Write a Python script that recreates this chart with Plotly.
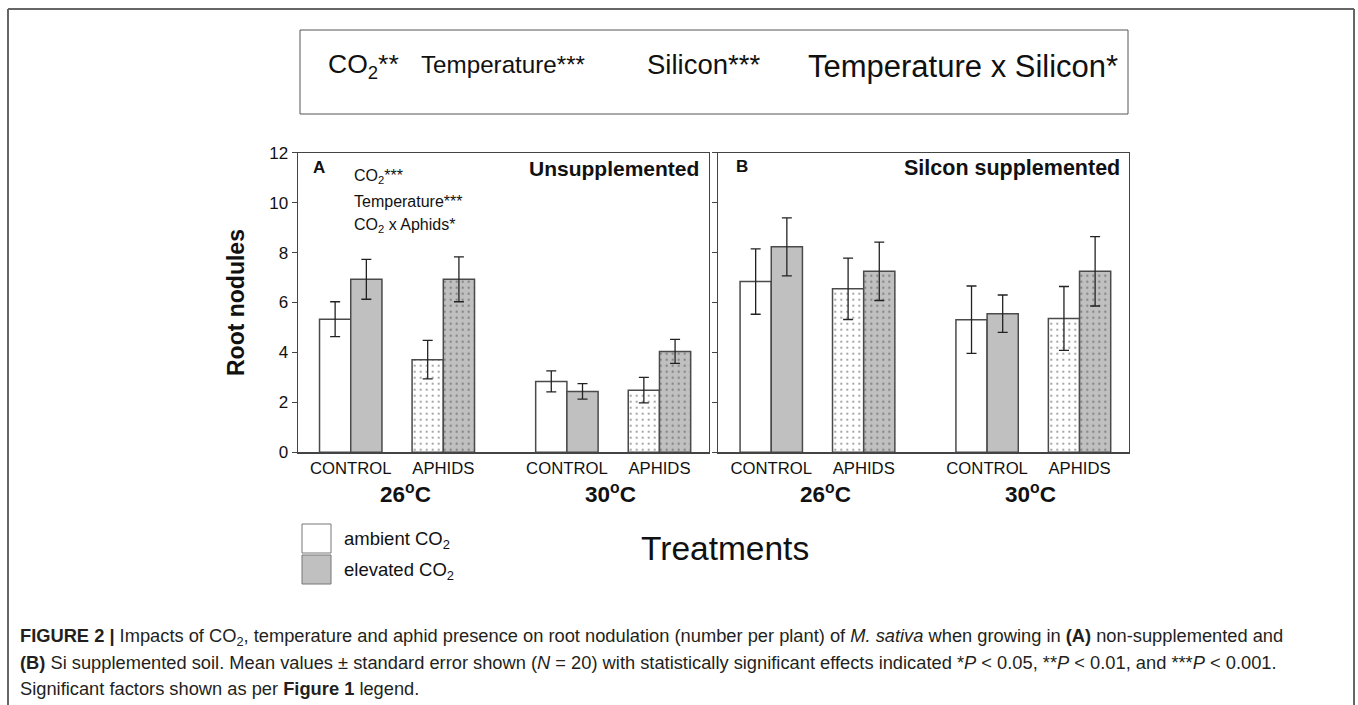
import plotly.graph_objects as go

# ---------------- data ----------------
treatments = ["CONTROL", "APHIDS", "CONTROL", "APHIDS"]
temperatures = ["26<sup>o</sup>C", "30<sup>o</sup>C"]
aphid_pattern = ["", ".", "", "."]

a_ambient = [5.33, 3.71, 2.84, 2.49]
a_ambient_se = [0.70, 0.77, 0.42, 0.51]
a_elevated = [6.93, 6.93, 2.44, 4.04]
a_elevated_se = [0.80, 0.90, 0.31, 0.48]

b_ambient = [6.84, 6.55, 5.31, 5.36]
b_ambient_se = [1.31, 1.23, 1.35, 1.28]
b_elevated = [8.23, 7.25, 5.55, 7.25]
b_elevated_se = [1.16, 1.17, 0.75, 1.39]

y_ticks = [0, 2, 4, 6, 8, 10, 12]

# ---------------- layout helpers ----------------
W, H = 1358, 705
FONT = "Liberation Sans, Arial, Helvetica, sans-serif"
GRAY = "#c0c0c0"
EDGE = "#4a4a4a"
AXC = "#444444"


def px(x):
    return x / W


def py(y):
    return 1 - y / H


# positions of the four treatment slots on a 0..411 axis (layout)
slot_x = [53, 145.5, 269, 361.5]
bar_w = 31.2
temp_x = [(slot_x[0] + slot_x[1]) / 2, (slot_x[2] + slot_x[3]) / 2]
temp_shift = [8, -3]

fig = go.Figure()


def add_panel(amb, amb_se, ele, ele_se, xa, ya):
    fig.add_trace(go.Bar(
        x=slot_x, y=amb, width=bar_w, offset=-bar_w,
        marker=dict(color="white", line=dict(color=EDGE, width=1.5),
                    pattern=dict(shape=aphid_pattern, fgcolor="#111111",
                                 bgcolor="white", size=6, solidity=0.09)),
        error_y=dict(type="data", array=amb_se, visible=True,
                     color="#222222", thickness=1.3, width=5),
        xaxis=xa, yaxis=ya, showlegend=False, hoverinfo="skip"))
    fig.add_trace(go.Bar(
        x=slot_x, y=ele, width=bar_w, offset=0,
        marker=dict(color=GRAY, line=dict(color=EDGE, width=1.5),
                    pattern=dict(shape=aphid_pattern, fgcolor="#4a4a4a",
                                 bgcolor=GRAY, size=6, solidity=0.12)),
        error_y=dict(type="data", array=ele_se, visible=True,
                     color="#222222", thickness=1.3, width=5),
        xaxis=xa, yaxis=ya, showlegend=False, hoverinfo="skip"))


add_panel(a_ambient, a_ambient_se, a_elevated, a_elevated_se, "x", "y")
add_panel(b_ambient, b_ambient_se, b_elevated, b_elevated_se, "x2", "y2")

ydom = [py(452.3), py(152.7)]
xaxis_common = dict(range=[0, 411], tickvals=slot_x, ticktext=treatments,
                    showline=True, linecolor=AXC, linewidth=1.2, mirror=True,
                    ticks="", showgrid=False, zeroline=False,
                    tickfont=dict(family=FONT, size=16.7, color="#111111"),
                    fixedrange=True, automargin=False)
yaxis_common = dict(range=[0, 12], tickvals=y_ticks, showline=True,
                    linecolor=AXC, linewidth=1.2, mirror=True,
                    ticks="outside", ticklen=5, tickcolor=AXC,
                    showgrid=False, zeroline=False,
                    tickfont=dict(family=FONT, size=17, color="#111111"),
                    domain=ydom, automargin=False, fixedrange=True)

fig.update_layout(
    width=W, height=H, autosize=False,
    margin=dict(l=0, r=0, t=0, b=0, pad=0),
    paper_bgcolor="white", plot_bgcolor="white",
    barmode="overlay", bargap=0,
    xaxis=dict(domain=[px(297.7), px(709)], anchor="y", **xaxis_common),
    yaxis=dict(anchor="x", **yaxis_common),
    xaxis2=dict(domain=[px(718.3), px(1129)], anchor="y2", **xaxis_common),
    yaxis2=dict(anchor="x2", showticklabels=False, **yaxis_common),
)

ann = []


def text(x, y, s, size=16, xanchor="left", bold=False, color="#111111", **kw):
    if bold:
        s = "<b>" + s + "</b>"
    ann.append(dict(x=px(x), y=py(y), xref="paper", yref="paper", text=s,
                    showarrow=False, xanchor=xanchor, yanchor="middle",
                    font=dict(family=FONT, size=size, color=color), **kw))


# temperature labels under each panel
for xa in ["x", "x2"]:
    for tx, tl, sh in zip(temp_x, temperatures, temp_shift):
        ann.append(dict(x=tx, y=py(493), xref=xa, yref="paper", xshift=sh,
                        text="<b>" + tl + "</b>", showarrow=False,
                        xanchor="center", yanchor="middle",
                        font=dict(family=FONT, size=22.5, color="#111111")))

# y-axis title
text(236, 303, "Root nodules", size=23, xanchor="center", bold=True, textangle=-90)

# panel A texts
text(319, 167, "A", size=17, xanchor="center", bold=True)
text(352, 176, "CO<sub>2</sub>***", size=16)
text(352, 202, "Temperature***", size=16)
text(352, 225, "CO<sub>2</sub> x Aphids*", size=16)
text(701, 168, "Unsupplemented", size=21, xanchor="right", bold=True)

# panel B texts
text(742, 166, "B", size=17, xanchor="center", bold=True)
text(1122, 168, "Silcon supplemented", size=21.5, xanchor="right", bold=True)

# top significance box
text(326, 66, "CO<sub>2</sub>**", size=26.5)
text(419, 64, "Temperature***", size=24.2)
text(645, 64, "Silicon***", size=27.5)
text(806, 66, "Temperature x Silicon*", size=31)

# legend
text(342, 540, "ambient CO<sub>2</sub>", size=18.5)
text(342, 571, "elevated CO<sub>2</sub>", size=18.5)

# x title
text(725, 548, "Treatments", size=33.5, xanchor="center")

# caption
cap_col = "#231f20"
text(18, 637, "<b>FIGURE 2 |</b> Impacts of CO<sub>2</sub>, temperature and aphid presence on root "
     "nodulation (number per plant) of <i>M. sativa</i> when growing in <b>(A)</b> non-supplemented and",
     size=18.3, color=cap_col)
text(18, 662, "<b>(B)</b> Si supplemented soil. Mean values ± standard error shown (<i>N</i> = 20) "
     "with statistically significant effects indicated *<i>P</i> &lt; 0.05, **<i>P</i> &lt; 0.01, "
     "and ***<i>P</i> &lt; 0.001.", size=18.3, color=cap_col)
text(18, 688, "Significant factors shown as per <b>Figure 1</b> legend.", size=18.3, color=cap_col)

fig.update_layout(annotations=ann)

shapes = []


def rect(x0, y0, x1, y1, fill="rgba(0,0,0,0)", line="#555555", lw=1):
    shapes.append(dict(type="rect", xref="paper", yref="paper",
                       x0=px(x0), x1=px(x1), y0=py(y0), y1=py(y1),
                       fillcolor=fill, line=dict(color=line, width=lw)))


def line(x0, y0, x1, y1, col="#666666", lw=2):
    shapes.append(dict(type="line", xref="paper", yref="paper",
                       x0=px(x0), x1=px(x1), y0=py(y0), y1=py(y1),
                       line=dict(color=col, width=lw)))


rect(300, 30, 1128, 114, line="#555555", lw=1)
rect(302, 524, 331, 553, fill="white", line="#777777", lw=1)
rect(302, 555, 331, 584, fill=GRAY, line="#777777", lw=1)

# outer frame
line(8, 9, 1354, 9)
line(8, 9, 8, 705)
line(1354, 9, 1354, 705)

fig.update_layout(shapes=shapes)

fig.write_html(
    "out.html",
    config={"displayModeBar": False, "staticPlot": True},
    post_script="document.body.style.margin='0';document.body.style.overflow='hidden';",
)
